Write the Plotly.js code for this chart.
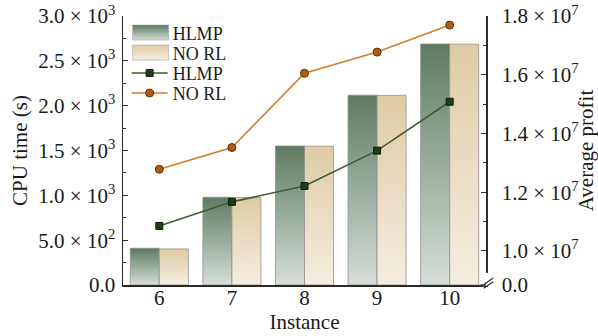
<!DOCTYPE html>
<html>
<head>
<meta charset="utf-8">
<script src="https://cdn.plot.ly/plotly-3.0.1.min.js"></script>
<style>
  html, body { margin: 0; padding: 0; background: #fff; }
  #chart { width: 598px; height: 336px; }
</style>
</head>
<body>
<div id="chart"></div>
<script>
// ---- data ----
const instances = [6, 7, 8, 9, 10];
const cpuHLMP = [410, 978, 1550, 2117, 2688];
const cpuNoRL = [402, 975, 1548, 2115, 2686];
const profitHLMP = [1.085e7, 1.167e7, 1.221e7, 1.3415e7, 1.508e7];
const profitNoRL = [1.278e7, 1.352e7, 1.605e7, 1.677e7, 1.769e7];

const leftTickVals = [0, 500, 1000, 1500, 2000, 2500, 3000];
const leftTickText = ["0.0", "5.0 × 10<sup>2</sup>", "1.0 × 10<sup>3</sup>", "1.5 × 10<sup>3</sup>",
                      "2.0 × 10<sup>3</sup>", "2.5 × 10<sup>3</sup>", "3.0 × 10<sup>3</sup>"];
const rightBreakLow = 0.8838e7; // bottom of broken right axis, labelled 0.0
const rightTickVals = [rightBreakLow, 1.0e7, 1.2e7, 1.4e7, 1.6e7, 1.8e7];
const rightTickText = ["0.0", "1.0 × 10<sup>7</sup>", "1.2 × 10<sup>7</sup>", "1.4 × 10<sup>7</sup>",
                       "1.6 × 10<sup>7</sup>", "1.8 × 10<sup>7</sup>"];

const FONT = "Liberation Serif";
const FS = 21;
const LFS = 18;
const TXT = "#1a1a1a";

const traces = [
  { type: "bar", x: instances, y: cpuHLMP, name: "HLMP", yaxis: "y",
    marker: { color: "#8fa592", line: { color: "rgba(140,140,140,0.75)", width: 1 } } },
  { type: "bar", x: instances, y: cpuNoRL, name: "NO RL", yaxis: "y",
    marker: { color: "#e9dcc1", line: { color: "rgba(140,140,140,0.75)", width: 1 } } },
  { type: "scatter", mode: "lines+markers", x: instances, y: profitHLMP, name: "HLMP", yaxis: "y2",
    line: { color: "#3d5e31", width: 1.6 },
    marker: { symbol: "square", size: 7, color: "#1f3d19", line: { color: "#0f1f0c", width: 1 } } },
  { type: "scatter", mode: "lines+markers", x: instances, y: profitNoRL, name: "NO RL", yaxis: "y2",
    line: { color: "#d27d2c", width: 1.6 },
    marker: { symbol: "circle", size: 8, color: "#b65b0e", line: { color: "#5a2f0c", width: 1 } } }
];

const layout = {
  width: 598, height: 336,
  margin: { l: 123, r: 112, t: 16, b: 51, pad: 0 },
  paper_bgcolor: "#fff", plot_bgcolor: "#fff",
  font: { family: FONT, size: FS, color: TXT },
  barmode: "group", bargap: 0.2, bargroupgap: 0,
  showlegend: true,
  legend: { x: 0.01, y: 0.985, xanchor: "left", yanchor: "top",
            bgcolor: "rgba(0,0,0,0)", borderwidth: 0,
            font: { family: FONT, size: LFS, color: TXT },
            itemwidth: 36, tracegroupgap: 0, traceorder: "normal" },
  xaxis: {
    range: [5.5, 10.5], tickvals: instances, ticktext: instances.map(String),
    showline: true, linecolor: "#2a2a2a", linewidth: 1.5,
    mirror: false, ticks: "", showgrid: false, zeroline: false,
    tickfont: { family: FONT, size: FS, color: TXT }, ticklabelstandoff: -7,
    title: { text: "Instance", font: { family: FONT, size: FS, color: TXT }, standoff: 2 }
  },
  xaxis2: { overlaying: "x", range: [5.5, 10.5], side: "top", showline: true, linecolor: "#2a2a2a",
            linewidth: 1.5, showticklabels: false, ticks: "", showgrid: false, zeroline: false, anchor: "y" },
  yaxis: {
    range: [0, 3000], tickmode: "array", tickvals: leftTickVals, ticktext: leftTickText,
    ticks: "inside", ticklen: 5, tickwidth: 1.2, tickcolor: "#2a2a2a",
    minor: { tickmode: "array", tickvals: [250, 750, 1250, 1750, 2250, 2750], ticks: "inside", ticklen: 3, tickwidth: 1, tickcolor: "#2a2a2a" },
    showline: true, linecolor: "#2a2a2a", linewidth: 1.5,
    showgrid: false, zeroline: false,
    tickfont: { family: FONT, size: FS, color: TXT }, ticklabelstandoff: 2,
    title: { text: "CPU time (s)", font: { family: FONT, size: FS, color: TXT }, standoff: 5 }
  },
  yaxis2: {
    overlaying: "y", side: "right", anchor: "x",
    range: [rightBreakLow, 1.8e7], tickmode: "array", tickvals: rightTickVals, ticktext: rightTickText,
    ticks: "inside", ticklen: 5, tickwidth: 1.2, tickcolor: "#2a2a2a",
    minor: { tickmode: "array", tickvals: [1.1e7, 1.3e7, 1.5e7, 1.7e7], ticks: "inside", ticklen: 3, tickwidth: 1, tickcolor: "#2a2a2a" },
    showline: true, linecolor: "#2a2a2a", linewidth: 1.5,
    showgrid: false, zeroline: false,
    tickfont: { family: FONT, size: FS, color: TXT }, ticklabelstandoff: 10,
    title: { text: "Average profit", font: { family: FONT, size: FS, color: TXT }, standoff: 6 }
  },
  shapes: [
    // axis-break mark at the bottom-right corner
    { type: "rect", xref: "paper", yref: "paper", x0: 0.99, x1: 1.02, y0: -0.004, y1: 0.045,
      fillcolor: "#fff", line: { width: 0 }, layer: "above" },
    { type: "line", xref: "paper", yref: "paper", x0: 0.985, x1: 1.0, y0: 0.0, y1: 0.0,
      line: { color: "#2a2a2a", width: 1.5 }, layer: "above" },
    { type: "line", xref: "paper", yref: "paper", x0: 0.994, x1: 1.02, y0: -0.012, y1: 0.012,
      line: { color: "#2a2a2a", width: 1.1 }, layer: "above" },
    { type: "line", xref: "paper", yref: "paper", x0: 0.994, x1: 1.02, y0: 0.002, y1: 0.026,
      line: { color: "#2a2a2a", width: 1.1 }, layer: "above" }
  ]
};

function addGradients(gd) {
  const svg = gd.querySelector("svg.main-svg");
  const ns = "http://www.w3.org/2000/svg";
  let defs = svg.querySelector("defs");
  if (!defs) { defs = document.createElementNS(ns, "defs"); svg.insertBefore(defs, svg.firstChild); }
  function grad(id, top, bottom) {
    const g = document.createElementNS(ns, "linearGradient");
    g.setAttribute("id", id);
    g.setAttribute("x1", "0"); g.setAttribute("y1", "0");
    g.setAttribute("x2", "0"); g.setAttribute("y2", "1");
    const s1 = document.createElementNS(ns, "stop");
    s1.setAttribute("offset", "0"); s1.setAttribute("stop-color", top);
    const s2 = document.createElementNS(ns, "stop");
    s2.setAttribute("offset", "1"); s2.setAttribute("stop-color", bottom);
    g.appendChild(s1); g.appendChild(s2); defs.appendChild(g);
  }
  grad("gradHLMP", "#5e7b62", "#d6ded8");
  grad("gradNORL", "#dfcca4", "#f4ede1");
  const barTraces = gd.querySelectorAll(".barlayer .trace");
  const ids = ["gradHLMP", "gradNORL"];
  barTraces.forEach((t, i) => {
    t.querySelectorAll("path").forEach(p => { p.style.fill = "url(#" + ids[i] + ")"; p.style.fillOpacity = 1; });
  });
  // legend: tighten spacing and enlarge bar swatches
  const items = gd.querySelectorAll(".legend .traces");
  items.forEach((it, i) => {
    it.setAttribute("transform", "translate(0," + (13 + i * 20) + ")");
    if (i < 2) {
      it.querySelectorAll(".legendpoints path").forEach(p => {
        p.setAttribute("d", "M-17,-8h36v15h-36z");
        p.style.fill = "url(#" + ids[i] + ")";
        p.style.stroke = "rgba(140,140,140,0.6)";
        p.style.strokeWidth = "1px";
      });
    }
  });
}

Plotly.newPlot("chart", traces, layout, { staticPlot: true, displayModeBar: false }).then(addGradients);
</script>
</body>
</html>
